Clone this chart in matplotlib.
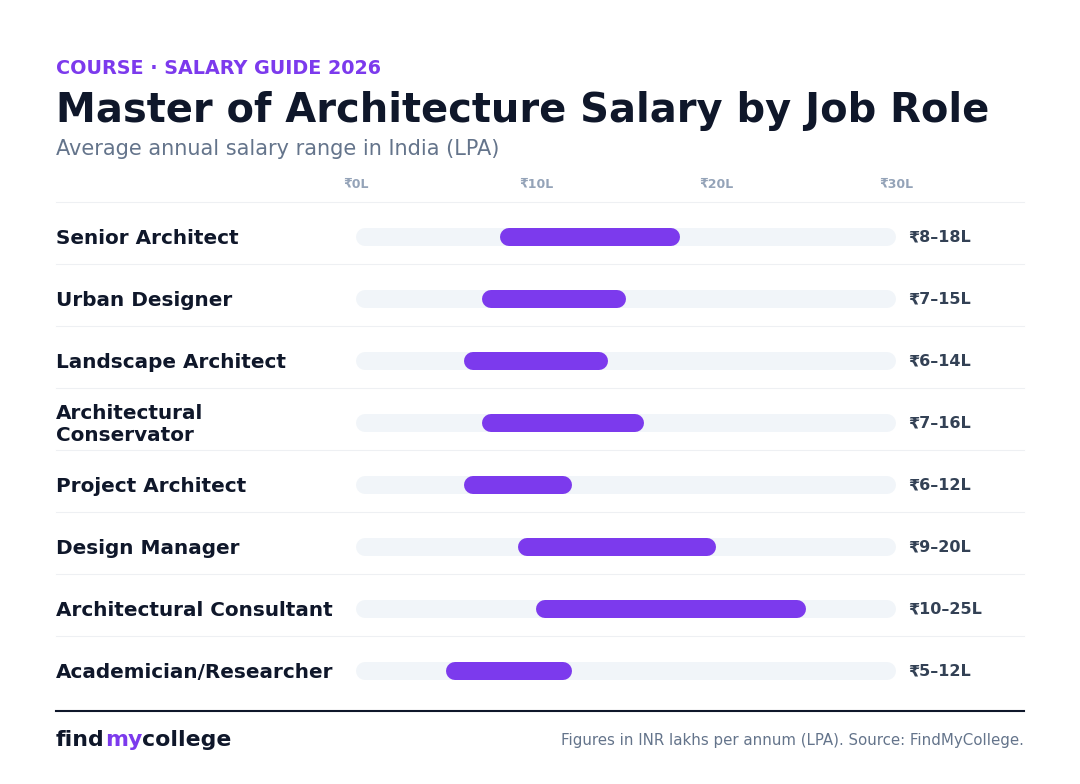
import matplotlib
matplotlib.use("Agg")
import matplotlib.pyplot as plt
from matplotlib.lines import Line2D

# ── data ──────────────────────────────────────────────────────────────────────
roles = ["Senior Architect", "Urban Designer", "Landscape Architect",
         "Architectural\nConservator", "Project Architect", "Design Manager",
         "Architectural Consultant", "Academician/Researcher"]
low = [8, 7, 6, 7, 6, 9, 10, 5]
high = [18, 15, 14, 16, 12, 20, 25, 12]
ticks = [0, 10, 20, 30]
tick_labels = ["₹0L", "₹10L", "₹20L", "₹30L"]

PURPLE = "#7c3aed"
DARK = "#0f172a"
GREY = "#64748b"
TRACK = "#f1f5f9"

W, H = 1080, 784
fig = plt.figure(figsize=(10.8, 7.84), dpi=100)
fig.patch.set_facecolor("white")

def fx(px): return px / W
def fy(py): return 1 - py / H

top, row_h = 206, 62
n = len(roles)
ax = fig.add_axes([fx(356), fy(top + n * row_h), 540 / W, n * row_h / H])
ax.set_xlim(0, 30)
ax.set_ylim(n, 0)
ax.axis("off")

lw = 18 * 72 / 100  # 18 px thick
r = 0.5  # cap radius in data units (9px / 18px per unit)
for i, (lo, hi) in enumerate(zip(low, high)):
    y = i + 0.5
    ax.plot([r, 30 - r], [y, y], color=TRACK, lw=lw, solid_capstyle="round")
    ax.plot([lo + r, hi - r], [y, y], color=PURPLE, lw=lw, solid_capstyle="round")
    fig.text(fx(56), fy(top + 1 + (i + 0.5) * row_h), roles[i], fontsize=14.4,
             fontweight="bold", color=DARK, va="center", linespacing=1.2)
    fig.text(fx(908), fy(top + (i + 0.5) * row_h), f"₹{lo}–{hi}L", fontsize=11.5,
             fontweight="bold", color="#334155", va="center")

for i in range(n):
    yy = fy(top - 4 + i * row_h)
    fig.add_artist(Line2D([fx(56), fx(1024)], [yy, yy], color="#eef0f3", lw=0.8))

for t, lab in zip(ticks, tick_labels):
    fig.text(fx(356 + t * 18), fy(185), lab, fontsize=9, fontweight="bold",
             color="#94a3b8", ha="center", va="center")

fig.text(fx(56), fy(68), "COURSE · SALARY GUIDE 2026", fontsize=13.8,
         fontweight="bold", color=PURPLE, va="center")
fig.text(fx(56), fy(111), "Master of Architecture Salary by Job Role", fontsize=28.8,
         fontweight="bold", color=DARK, va="center")
fig.text(fx(56), fy(149), "Average annual salary range in India (LPA)", fontsize=15,
         color=GREY, va="center")

fig.add_artist(Line2D([fx(56), fx(1024)], [fy(711), fy(711)], color=DARK, lw=1.5))
x0 = fx(56)
for part, col in [("find", DARK), ("my", PURPLE), ("college", DARK)]:
    t = fig.text(x0, fy(740), part, fontsize=15.8, fontweight="bold", color=col, va="center")
    fig.canvas.draw()
    bb = t.get_window_extent()
    x0 = bb.x1 / W
fig.text(fx(1024), fy(740), "Figures in INR lakhs per annum (LPA). Source: FindMyCollege.",
         fontsize=10.8, color=GREY, ha="right", va="center")

fig.savefig("out.png", dpi=100)
